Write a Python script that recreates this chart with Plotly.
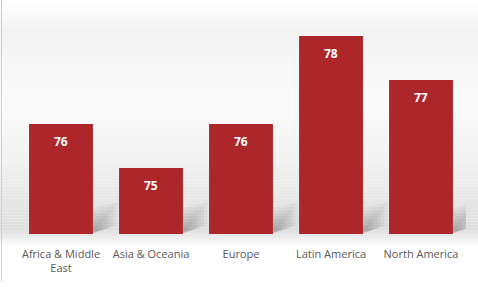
import plotly.graph_objects as go

categories = ["Africa & Middle<br>East", "Asia & Oceania", "Europe", "Latin America", "North America"]
values = [76, 75, 76, 78, 77]

BAR_COLOR = "#AD2629"
W, H = 478, 287
PLOT_TOP, PLOT_BOTTOM = 14, 241  # pixel rows of plot area
BAR_W = 0.71

fig = go.Figure()
fig.add_trace(go.Bar(
    x=categories, y=values,
    marker=dict(color=BAR_COLOR, line=dict(width=0)),
    width=BAR_W,
    hoverinfo="skip",
))

# value labels
for c, v in zip(categories, values):
    fig.add_annotation(x=c, y=v, text=f"<b>{v}</b>", showarrow=False,
                       yanchor="top", yshift=-7,
                       font=dict(color="white", size=12, family="Open Sans"))

def py(y):  # pixel row -> paper y
    return (PLOT_BOTTOM - y) / (PLOT_BOTTOM - PLOT_TOP)

# background gradient strips
stops = [
    (0, 255), (8, 252), (30, 242), (60, 246), (110, 250),
    (170, 240), (215, 228), (236, 222), (246, 240), (254, 255), (287, 255),
]
def col_at(y):
    for (y0, c0), (y1, c1) in zip(stops[:-1], stops[1:]):
        if y0 <= y <= y1:
            f = (y - y0) / (y1 - y0)
            return round(c0 + (c1 - c0) * f)
    return 255

shapes = []
step = 3
for y in range(0, 260, step):
    g = col_at(y + step / 2)
    shapes.append(dict(type="rect", xref="paper", yref="paper",
                       x0=-0.05, x1=1.05, y0=py(y + step), y1=py(y),
                       fillcolor=f"rgb({g},{g},{g})", line=dict(width=0), layer="below"))

# soft blurred diagonal shadows to the right of each bar's foot
for i in range(len(categories)):
    R = i + BAR_W / 2
    for k in range(7):
        s = 1 - k * 0.13
        shapes.append(dict(type="path", xref="x", yref="paper",
                           path=(f"M {R},{py(240)} L {R},{py(240 - 26 * s)} "
                                 f"L {R + 0.27 * s},{py(238 - 30 * s)} "
                                 f"L {R + 0.27 * s},{py(240 - 8 * s)} Z"),
                           fillcolor="black", opacity=0.035, line=dict(width=0), layer="below"))

# chart border line on the left
shapes.append(dict(type="line", xref="paper", yref="paper",
                   x0=-0.0322, x1=-0.0322, y0=py(290), y1=py(-5),
                   line=dict(color="#D0D0D0", width=1), layer="above"))
fig.update_layout(shapes=shapes)

fig.update_layout(
    width=W, height=H,
    margin=dict(l=16, r=12, t=PLOT_TOP, b=H - PLOT_BOTTOM),
    paper_bgcolor="white",
    plot_bgcolor="rgba(0,0,0,0)",
    showlegend=False,
    font=dict(family="Open Sans", size=11, color="#595959"),
    bargap=0.29,
    xaxis=dict(range=[-0.5, 4.5], showgrid=False, zeroline=False, showline=False, ticks="",
               ticklabelstandoff=12,
               tickfont=dict(size=11, color="#595959"), fixedrange=True),
    yaxis=dict(range=[73.5, 78.5], showgrid=False, zeroline=False, showline=False,
               showticklabels=False, fixedrange=True),
)

fig.write_html("out.html")
